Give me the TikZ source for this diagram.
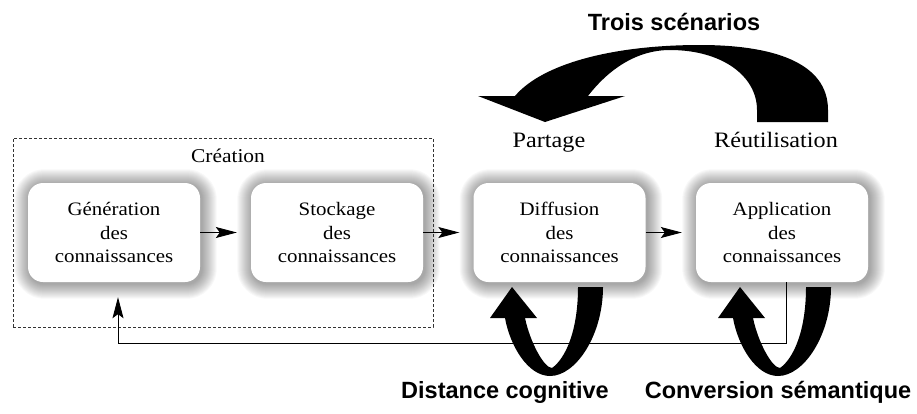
\documentclass[tikz,border=0pt]{standalone}
\usepackage{fontspec}
\setmainfont{Liberation Serif}
\newfontfamily\boxfont[FakeStretch=1.1]{Liberation Serif}
\newfontfamily\labfont{Liberation Sans}
\usetikzlibrary{arrows.meta,calc}
\pgfdeclarelayer{background}
\pgfsetlayers{background,main}
\begin{document}
\begin{tikzpicture}[x=1pt,y=-1pt,
  kbox/.style={rounded corners=15pt, fill=white, minimum width=172pt, minimum height=99pt,
    inner sep=0pt, align=center, font=\boxfont\fontsize{19}{23.5}\selectfont},
  phase/.style={anchor=base, inner sep=0pt, font=\boxfont\fontsize{22}{26}\selectfont},
  biglab/.style={anchor=base, inner sep=0pt, font=\labfont\bfseries\fontsize{23.5}{27}\selectfont},
  flow/.style={line width=0.9pt, -{Stealth[length=21pt,width=11pt,inset=4pt]}, shorten >=14pt},
  thick arrow/.style={fill=black, draw=none},
]
\useasboundingbox (0,0) rectangle (917,413);

% boxes
\node[kbox] (gen) at (114,232.5) {Génération\\des\\connaissances};
\node[kbox] (sto) at (337,232.5) {Stockage\\des\\connaissances};
\node[kbox] (dif) at (559.5,232.5) {Diffusion\\des\\connaissances};
\node[kbox] (app) at (782,232.5) {Application\\des\\connaissances};

% glow shadows
\begin{pgfonlayer}{background}
\foreach \b in {gen,sto,dif,app}{
  \foreach \k in {1,...,15}{
    \pgfmathsetmacro\rr{15+\k}
    \fill[black, opacity=0.028, rounded corners=\rr pt]
      ($(\b.south west)+(-\k+1.5,\k+1.5)$) rectangle ($(\b.north east)+(\k+1.5,-\k+1.5)$);
  }
}
\end{pgfonlayer}

% creation frame
\node[inner sep=0pt, draw=black!80, dashed, dash pattern=on 3pt off 2pt, line width=0.6pt,
  minimum width=420pt, minimum height=189pt] (crea) at (223,232.5) {};
\node[phase, font=\boxfont\fontsize{19.5}{23}\selectfont] (creal) at (228,162) {Création};

% labels
\node[phase] (partage) at (549,147) {Partage};
\node[phase] (reut) at (776,147) {Réutilisation};
\node[biglab] (trois) at (674,30) {Trois scénarios};
\node[biglab] (dist) at (505,398) {Distance cognitive};
\node[biglab] (conv) at (778,398) {Conversion sémantique};

% flow arrows
\draw[flow] (gen.east) -- (sto.west);
\draw[flow] (sto.east) -- (dif.west);
\draw[flow] (dif.east) -- (app.west);

% feedback
\coordinate (fb1) at (786,343);
\coordinate (fb2) at (118,343);
\draw[flow, shorten >=15pt] (app.south -| fb1) -- (fb1) -- (fb2) -- (gen.south -| fb2);

% big curved arrow (Trois scenarios)
\fill[thick arrow] (828,122) -- (828,110) .. controls (828,62) and (772,45) .. (700,45)
  .. controls (612,45) and (542,64) .. (515,96)
  -- (478,96) -- (545,122) -- (625,96) -- (588,96)
  .. controls (608,70) and (636,50) .. (670,50)
  .. controls (722,50) and (757,76) .. (757,110) -- (757,122) -- cycle;

% loops
\foreach \dx in {0,228}{
  \begin{scope}[xshift=\dx]
  \fill[thick arrow] (603,287) .. controls (603,335) and (576,376) .. (550,376)
    .. controls (528,376) and (510,346) .. (505,318)
    -- (490,318) -- (512,287) -- (537,318) -- (525,318)
    .. controls (530,342) and (544,368) .. (552,368)
    .. controls (566,358) and (578,330) .. (578,287) -- cycle;
  \end{scope}
}
\end{tikzpicture}
\end{document}
